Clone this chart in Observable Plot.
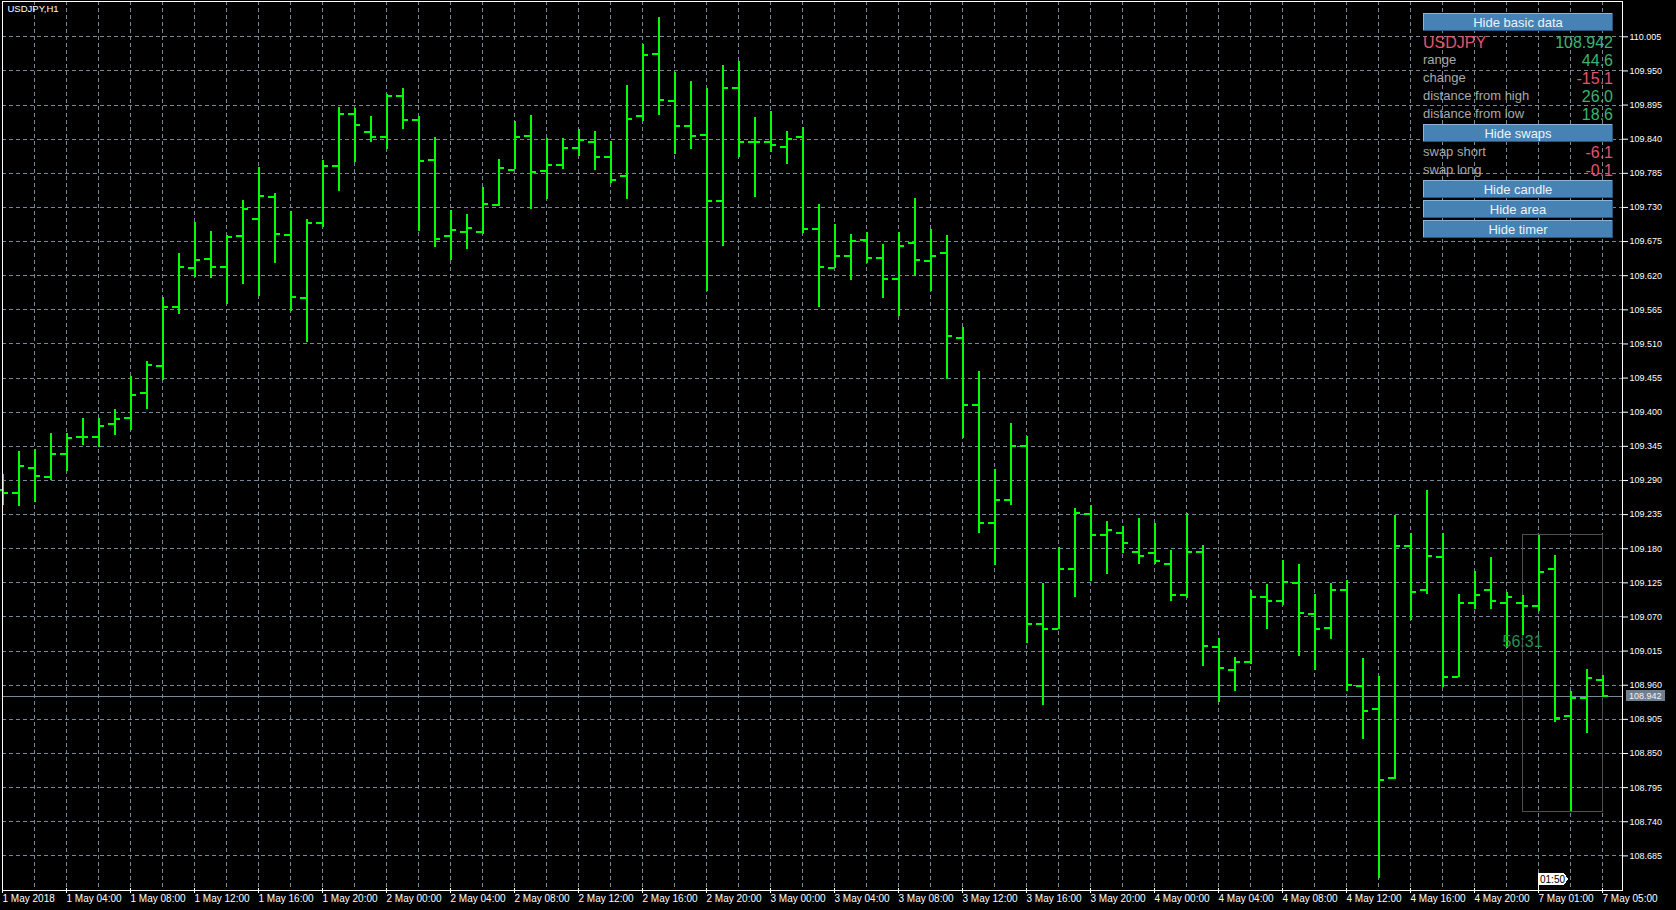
<!DOCTYPE html>
<html><head><meta charset="utf-8">
<script src="https://cdn.jsdelivr.net/npm/d3@7"></script>
<script src="https://cdn.jsdelivr.net/npm/@observablehq/plot@0.6"></script>
<style>
html,body{margin:0;padding:0;background:#000;}
#wrap{position:relative;width:1676px;height:910px;overflow:hidden;background:#000;}
#wrap svg{display:block;}
</style></head>
<body><div id="wrap"></div>
<script>
// ---------- data (USDJPY, H1) ----------
const symbol = "USDJPY";
const chartTitle = "USDJPY,H1";
const opens = [109.275,109.269,109.310,109.295,109.332,109.360,109.360,109.381,109.390,109.431,
109.474,109.569,109.632,109.647,109.634,109.684,109.711,109.747,109.686,109.584,
109.705,109.796,109.881,109.851,109.843,109.910,109.871,109.806,109.684,109.691,
109.690,109.734,109.791,109.845,109.789,109.798,109.826,109.835,109.812,109.780,
109.877,109.977,109.901,109.862,109.846,109.741,109.922,109.835,109.835,109.827,
109.843,109.695,109.633,109.651,109.678,109.648,109.614,109.673,109.643,109.657,
109.519,109.411,109.222,109.258,109.346,109.058,109.051,109.148,109.236,109.202,
109.206,109.174,109.173,109.156,109.106,109.174,109.021,108.985,108.998,109.102,
109.095,109.124,109.074,109.052,109.114,108.958,108.921,108.810,109.185,109.113,
109.166,108.974,109.093,109.114,109.093,109.093,109.087,109.148,108.911,108.939,
108.969];
const highs = [109.300,109.337,109.340,109.366,109.366,109.390,109.390,109.404,109.458,109.482,
109.585,109.656,109.706,109.691,109.684,109.741,109.795,109.752,109.724,109.711,
109.806,109.891,109.889,109.877,109.912,109.922,109.877,109.842,109.725,109.719,
109.762,109.807,109.869,109.878,109.841,109.841,109.856,109.853,109.836,109.927,
109.993,110.036,109.948,109.933,109.922,109.959,109.965,109.875,109.885,109.853,
109.859,109.735,109.703,109.687,109.689,109.671,109.689,109.745,109.695,109.684,
109.537,109.466,109.308,109.382,109.361,109.124,109.182,109.245,109.249,109.224,
109.216,109.228,109.220,109.177,109.236,109.186,109.035,109.004,109.112,109.122,
109.161,109.154,109.106,109.124,109.128,109.003,108.974,109.233,109.204,109.274,
109.204,109.106,109.143,109.166,109.109,109.104,109.202,109.169,108.950,108.986,
108.976];
const lows = [109.250,109.248,109.254,109.290,109.304,109.346,109.343,109.362,109.370,109.404,
109.451,109.558,109.617,109.616,109.573,109.606,109.587,109.640,109.563,109.513,
109.697,109.755,109.802,109.834,109.824,109.855,109.691,109.666,109.645,109.663,
109.687,109.732,109.791,109.726,109.743,109.791,109.812,109.790,109.768,109.743,
109.869,109.878,109.815,109.824,109.595,109.667,109.811,109.746,109.819,109.799,
109.688,109.568,109.631,109.612,109.639,109.583,109.554,109.618,109.595,109.452,
109.358,109.205,109.153,109.250,109.027,108.927,109.050,109.101,109.127,109.139,
109.173,109.155,109.155,109.095,109.099,108.990,108.932,108.950,108.993,109.050,
109.089,109.006,108.984,109.034,108.950,108.873,108.648,108.808,109.064,109.106,
108.956,108.973,109.082,109.082,109.019,109.040,109.079,108.900,108.756,108.882,
108.940];
const closes = [109.269,109.313,109.298,109.332,109.358,109.360,109.377,109.389,109.427,109.476,
109.569,109.634,109.645,109.634,109.682,109.727,109.748,109.687,109.585,109.705,
109.796,109.881,109.863,109.843,109.910,109.871,109.805,109.679,109.693,109.697,
109.735,109.793,109.843,109.787,109.798,109.826,109.838,109.812,109.775,109.872,
109.976,109.903,109.862,109.845,109.741,109.922,109.835,109.835,109.830,109.841,
109.696,109.634,109.651,109.676,109.648,109.614,109.668,109.645,109.651,109.523,
109.411,109.222,109.258,109.346,109.058,109.050,109.148,109.237,109.202,109.210,
109.190,109.169,109.160,109.106,109.174,109.023,108.987,108.997,109.103,109.095,
109.127,109.077,109.050,109.114,108.961,108.919,108.808,109.185,109.111,109.168,
108.973,109.093,109.106,109.095,109.103,109.087,109.142,108.908,108.939,108.971,
108.942];

const yTicks = [110.005,109.950,109.895,109.840,109.785,109.730,109.675,109.620,109.565,109.510,
109.455,109.400,109.345,109.290,109.235,109.180,109.125,109.070,109.015,108.960,
108.905,108.850,108.795,108.740,108.685];
const xLabelIdx = [0,4,8,12,16,20,24,28,32,36,40,44,48,52,56,60,64,68,72,76,80,84,88,92,96,100];
const xLabels = ["1 May 2018","1 May 04:00","1 May 08:00","1 May 12:00","1 May 16:00","1 May 20:00",
"2 May 00:00","2 May 04:00","2 May 08:00","2 May 12:00","2 May 16:00","2 May 20:00",
"3 May 00:00","3 May 04:00","3 May 08:00","3 May 12:00","3 May 16:00","3 May 20:00",
"4 May 00:00","4 May 04:00","4 May 08:00","4 May 12:00","4 May 16:00","4 May 20:00",
"7 May 01:00","7 May 05:00"];
const gridIdx = [0,2,4,6,8,10,12,14,16,18,20,22,24,26,28,30,32,34,36,38,40,42,44,46,48,50,
52,54,56,58,60,62,64,66,68,70,72,74,76,78,80,82,84,86,88,90,92,94,96,98,100];

// today's range box and timer
const dayStartIdx = 95, dayEndIdx = 100;
const dayHigh = 109.202, dayLow = 108.756;
const timerText = "56:31", timerPrice = 109.030;
const cursorIdx = 96, cursorText = "01:50";

// info panel
const lastPrice = 108.942;
const infoRows = [
  {label: "range", value: "44.6", sign: 1},
  {label: "change", value: "-15.1", sign: -1},
  {label: "distance from high", value: "26.0", sign: 1},
  {label: "distance from low", value: "18.6", sign: 1}
];
const swapRows = [
  {label: "swap short", value: "-6.1", sign: -1},
  {label: "swap long", value: "-0.1", sign: -1}
];
const buttonLabels = ["Hide basic data", "Hide swaps", "Hide candle", "Hide area", "Hide timer"];

const bars = opens.map((o, i) => ({i, open: o, high: highs[i], low: lows[i], close: closes[i]}));

const GREEN = "#00ff00", GRID = "#778899";
const FONT = "'Liberation Sans', Arial, sans-serif";

const chart = Plot.plot({
  width: 1676, height: 910,
  marginLeft: 2, marginRight: 54, marginTop: 1, marginBottom: 20,
  style: {background: "#000", color: "white", fontFamily: FONT, overflow: "visible"},
  x: {domain: [0, 101.25], axis: null},
  y: {domain: [108.6292, 110.0619], axis: null},
  marks: [
    Plot.ruleY(yTicks, {stroke: GRID, strokeDasharray: "4,3", shapeRendering: "crispEdges"}),
    Plot.ruleX(gridIdx, {stroke: GRID, strokeDasharray: "4,3", shapeRendering: "crispEdges"}),
    Plot.ruleY([lastPrice], {stroke: GRID, shapeRendering: "crispEdges"}),
    Plot.rect([{x1: dayStartIdx, x2: dayEndIdx, y1: dayLow, y2: dayHigh}],
      {x1: "x1", x2: "x2", y1: "y1", y2: "y2", stroke: "#505050", fill: "none", shapeRendering: "crispEdges"}),
    Plot.ruleX(bars, {x: "i", y1: "low", y2: "high", stroke: GREEN, strokeWidth: 2, shapeRendering: "crispEdges"}),
    Plot.ruleY(bars, {y: "open", x1: d => d.i - 0.375, x2: "i", stroke: GREEN, strokeWidth: 2, shapeRendering: "crispEdges"}),
    Plot.ruleY(bars, {y: "close", x1: "i", x2: d => d.i + 0.375, stroke: GREEN, strokeWidth: 2, shapeRendering: "crispEdges"}),
    Plot.text([timerText], {x: () => dayStartIdx, y: () => timerPrice, text: d => d,
      fill: "#2b8f52", fontSize: 16, fontFamily: "'Liberation Sans Narrow', 'Liberation Sans', Arial, sans-serif"}),
    Plot.axisY({anchor: "right", ticks: yTicks, tickFormat: d => d.toFixed(3), tickSize: 5, tickPadding: 2,
      fontSize: 9, color: "white"}),
    Plot.axisX({anchor: "bottom", ticks: xLabelIdx, tickFormat: i => xLabels[xLabelIdx.indexOf(i)],
      tickSize: 5, tickPadding: 1, dy: -2, textAnchor: "start", fontSize: 10, color: "white"}),
    Plot.frame({stroke: "white", shapeRendering: "crispEdges"}),
    Plot.text([chartTitle], {frameAnchor: "top-left", text: d => d, dx: 5, dy: 4, textAnchor: "start",
      lineAnchor: "top", fill: "white", fontSize: 9.5})
  ]
});
const wrap = document.getElementById("wrap");
wrap.appendChild(chart);

// ---------- overlay: info panel, price tag, cursor flag ----------
const ov = d3.select(wrap).append("svg")
  .attr("width", 1676).attr("height", 910)
  .style("position", "absolute").style("left", "0px").style("top", "0px")
  .style("pointer-events", "none").style("font-family", FONT);

const PX = 1423, PR = 1613, PW = PR - PX;
const btnTops = [13, 124, 180, 200, 220];
buttonLabels.forEach((lab, k) => {
  const t = btnTops[k], g = ov.append("g").attr("shape-rendering", "crispEdges");
  g.append("rect").attr("x", PX).attr("y", t).attr("width", PW).attr("height", 18).attr("fill", "#4682b4");
  g.append("rect").attr("x", PX).attr("y", t).attr("width", PW).attr("height", 1).attr("fill", "#8cb3dc");
  g.append("rect").attr("x", PX).attr("y", t).attr("width", 1).attr("height", 18).attr("fill", "#8cb3dc");
  g.append("rect").attr("x", PX).attr("y", t + 17).attr("width", PW).attr("height", 1).attr("fill", "#27557f");
  g.append("rect").attr("x", PR - 1).attr("y", t).attr("width", 1).attr("height", 18).attr("fill", "#27557f");
  ov.append("text").attr("x", PX + PW / 2).attr("y", t + 14).attr("text-anchor", "middle")
    .attr("fill", "#eef2f7").attr("font-size", 13).text(lab);
});
const RED = "#e4546c", VGREEN = "#3cb371", LGRAY = "#a9a9a9";
ov.append("text").attr("x", PX).attr("y", 48).attr("font-size", 16).attr("fill", RED).text(symbol);
ov.append("text").attr("x", PR).attr("y", 48).attr("font-size", 16).attr("fill", VGREEN)
  .attr("text-anchor", "end").text(lastPrice.toFixed(3));
const rowBase = [64, 82, 100, 118];
infoRows.forEach((r, k) => {
  ov.append("text").attr("x", PX).attr("y", rowBase[k]).attr("font-size", 13).attr("fill", LGRAY).text(r.label);
  ov.append("text").attr("x", PR).attr("y", rowBase[k] + 2).attr("font-size", 16).attr("text-anchor", "end")
    .attr("fill", r.sign > 0 ? VGREEN : RED).text(r.value);
});
const swapBase = [156, 174];
swapRows.forEach((r, k) => {
  ov.append("text").attr("x", PX).attr("y", swapBase[k]).attr("font-size", 13).attr("fill", LGRAY).text(r.label);
  ov.append("text").attr("x", PR).attr("y", swapBase[k] + 2).attr("font-size", 16).attr("text-anchor", "end")
    .attr("fill", r.sign > 0 ? VGREEN : RED).text(r.value);
});

// price tag on the axis
const yPx = chart.scale("y").apply(lastPrice);
ov.append("rect").attr("x", 1626).attr("y", Math.round(yPx) - 6).attr("width", 39).attr("height", 11)
  .attr("fill", "#708090").attr("shape-rendering", "crispEdges");
ov.append("text").attr("x", 1629).attr("y", Math.round(yPx) + 3).attr("font-size", 9).attr("fill", "#f4f4f4")
  .text(lastPrice.toFixed(3));

// cursor flag at the bottom
const cx = Math.round(chart.scale("x").apply(cursorIdx));
ov.append("path").attr("d", `M${cx},873 h26 l4,6 l-4,6 h-26 Z`).attr("fill", "white").attr("shape-rendering", "crispEdges");
ov.append("rect").attr("x", cx).attr("y", 873).attr("width", 1).attr("height", 17).attr("fill", "white");
ov.append("text").attr("x", cx + 2).attr("y", 883).attr("font-size", 10).attr("fill", "black").text(cursorText);
</script>
</body></html>
